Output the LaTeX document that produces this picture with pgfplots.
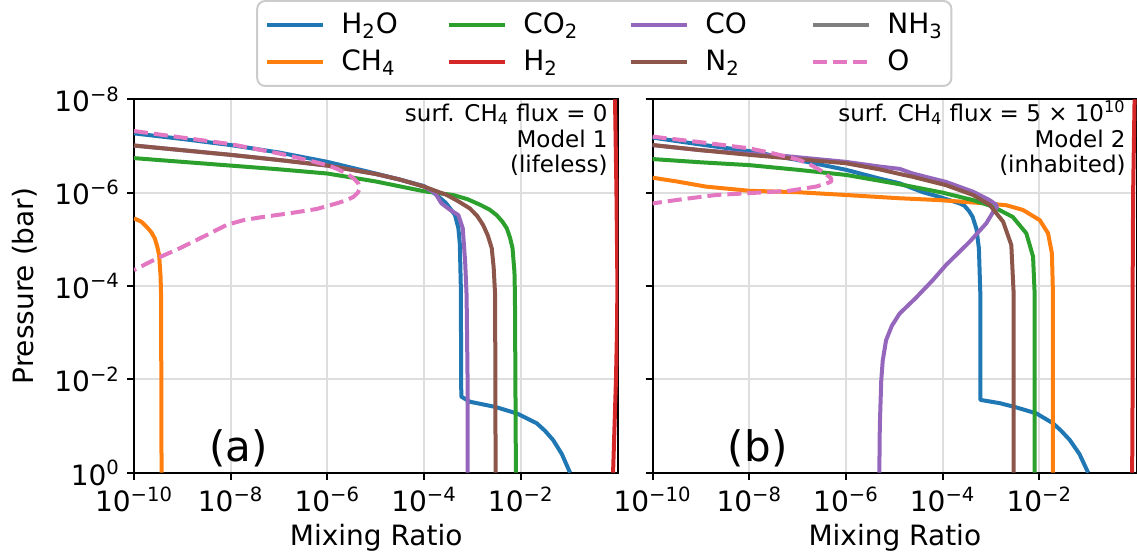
\documentclass[border=0pt]{standalone}
\usepackage{fontspec}
\setmainfont{DejaVu Sans}
\usepackage{pgfplots}
\pgfplotsset{compat=1.18}

\definecolor{cH2O}{HTML}{1F77B4}
\definecolor{cCH4}{HTML}{FF7F0E}
\definecolor{cCO2}{HTML}{2CA02C}
\definecolor{cH2}{HTML}{D62728}
\definecolor{cCO}{HTML}{9467BD}
\definecolor{cN2}{HTML}{8C564B}
\definecolor{cNH3}{HTML}{7F7F7F}
\definecolor{cO}{HTML}{E377C2}

% axes are linear in log10 units; tick labels written as powers of ten
\pgfplotsset{
  panel/.style={
    width=242.2pt, height=186.7pt, scale only axis,
    xmin=-10, xmax=0.02, ymin=-8, ymax=0, y dir=reverse,
    xtick={-10,-8,-6,-4,-2}, ytick={-8,-6,-4,-2,0},
    xticklabels={10\textsuperscript{−10},10\textsuperscript{−8},10\textsuperscript{−6},10\textsuperscript{−4},10\textsuperscript{−2}},
    tick align=outside, tick pos=left, major tick length=3.5pt,
    every tick/.style={black, line width=0.9pt},
    axis line style={line width=0.9pt},
    grid=major, grid style={line width=0.9pt, color=black!13},
    tick label style={font=\fontsize{14}{16}\selectfont},
    every axis x label/.style={at={(axis description cs:0.5,-0.196)}, anchor=base, font=\fontsize{14}{16}\selectfont},
    every axis y label/.style={at={(axis description cs:-0.2085,0.5)}, rotate=90, anchor=base, font=\fontsize{14}{16}\selectfont},
    xlabel={Mixing Ratio},
    every axis plot/.append style={line width=2pt, line join=round},
    legend image code/.code={\draw[#1] (0pt,0pt) -- (27.9pt,0pt);},
  },
  Odash/.style={cO, dash pattern=on 7pt off 3pt},
}
\newcommand{\lt}[1]{\makebox[28pt][l]{\rule[-3.5pt]{0pt}{16pt}#1}}
\newcommand{\annot}{\fontsize{11.5}{13}\selectfont}

\begin{document}
\begin{tikzpicture}
\begin{axis}[panel,
  ylabel={Pressure (bar)},
  yticklabels={10\textsuperscript{−8},10\textsuperscript{−6},10\textsuperscript{−4},10\textsuperscript{−2},10\textsuperscript{0}},
  legend columns=4,
  legend cell align=left,
  legend style={at={(axis description cs:0.9709,1.033)}, anchor=south,
    draw=black!20, line width=1pt, rounded corners=4pt, fill=white,
    inner xsep=4pt, inner ysep=4pt, row sep=2.5pt,
    font=\fontsize{14}{16}\selectfont,
    nodes={inner sep=0pt, text depth={}},
    /tikz/every odd column/.append style={column sep=8.2pt},
    /tikz/every even column/.append style={column sep=24.9pt}},
]
% H2O
\addplot[cH2O, forget plot] coordinates {
(-10,-7.27) (-9,-7.15) (-8,-7.02) (-7,-6.86) (-6,-6.66) (-5,-6.41) (-4.5,-6.28)
(-4,-6.14) (-3.9,-6.07) (-3.74,-5.95) (-3.55,-5.78) (-3.46,-5.66) (-3.36,-5.52)
(-3.29,-5.24) (-3.26,-4.9) (-3.24,-4.0) (-3.23,-1.63) (-3.05,-1.52) (-2.53,-1.41)
(-2.08,-1.27) (-1.67,-1.06) (-1.50,-0.90) (-1.33,-0.70) (-1.15,-0.40) (-0.98,0)};
% CH4
\addplot[cCH4, forget plot] coordinates {
(-10,-5.45) (-9.85,-5.38) (-9.74,-5.27) (-9.64,-5.15) (-9.57,-5.02) (-9.52,-4.85)
(-9.48,-4.66) (-9.45,-4.2) (-9.44,-3.81) (-9.43,0)};
% CO2
\addplot[cCO2, forget plot] coordinates {
(-10,-6.74) (-9,-6.66) (-8,-6.58) (-7,-6.50) (-6,-6.41) (-5,-6.24) (-4,-6.03)
(-3.40,-5.95) (-3.1,-5.86) (-2.84,-5.74) (-2.65,-5.64) (-2.50,-5.52) (-2.38,-5.38)
(-2.29,-5.24) (-2.22,-5.03) (-2.17,-4.81) (-2.13,-4.3) (-2.12,-3.81) (-2.10,0)};
% H2
\addplot[cH2, forget plot] coordinates {
(-0.05,-8) (-0.02,-6) (0,-4) (-0.01,-3) (-0.03,-2) (-0.06,-1) (-0.09,0)};
% CO
\addplot[cCO, forget plot] coordinates {
(-10,-7.01) (-9,-6.91) (-8,-6.81) (-7,-6.70) (-6,-6.58) (-5,-6.40) (-4.5,-6.28)
(-4,-6.13) (-3.77,-5.99) (-3.64,-5.77) (-3.46,-5.63) (-3.29,-5.52) (-3.20,-5.24)
(-3.15,-4.52) (-3.12,-3.8) (-3.10,-2) (-3.10,0)};
% N2
\addplot[cN2, forget plot] coordinates {
(-10,-7.01) (-9,-6.91) (-8,-6.81) (-7,-6.70) (-6,-6.58) (-5,-6.40) (-4.5,-6.28)
(-4,-6.13) (-3.53,-5.95) (-3.3,-5.82) (-3.05,-5.66) (-2.9,-5.5) (-2.78,-5.31)
(-2.68,-5.08) (-2.60,-4.81) (-2.56,-4.4) (-2.53,-3.81) (-2.52,0)};
% O
\addplot[Odash, forget plot] coordinates {
(-10,-7.32) (-9,-7.18) (-8,-7.04) (-7,-6.84) (-6.5,-6.72) (-6,-6.59) (-5.8,-6.51)
(-5.6,-6.41) (-5.45,-6.30) (-5.36,-6.20) (-5.33,-6.09) (-5.37,-6.0) (-5.46,-5.91)
(-5.6,-5.84) (-5.81,-5.77) (-6.22,-5.65) (-6.77,-5.56) (-7.33,-5.48) (-7.74,-5.41)
(-8.08,-5.31) (-8.5,-5.09) (-9.05,-4.81) (-9.53,-4.59) (-10,-4.34)};

\addlegendimage{cH2O, line width=2pt}
\addlegendimage{cCO2, line width=2pt}
\addlegendimage{cCO, line width=2pt}
\addlegendimage{cNH3, line width=2pt}
\addlegendimage{cCH4, line width=2pt}
\addlegendimage{cH2, line width=2pt}
\addlegendimage{cN2, line width=2pt}
\addlegendimage{Odash, line width=2pt}
\legend{\lt{H\textsubscript{2}O},\lt{CO\textsubscript{2}},\lt{CO},\lt{NH\textsubscript{3}},
        \lt{CH\textsubscript{4}},\lt{H\textsubscript{2}},\lt{N\textsubscript{2}},\lt{O}}

\node[anchor=base east, inner sep=0pt, font=\annot] at (axis description cs:0.9785,0.9411) {surf. CH\textsubscript{4} flux = 0};
\node[anchor=base east, inner sep=0pt, font=\annot] at (axis description cs:0.9785,0.8715) {Model 1};
\node[anchor=base east, inner sep=0pt, font=\annot] at (axis description cs:0.9785,0.8045) {(lifeless)};
\node[anchor=base west, inner sep=0pt, font=\fontsize{21}{24}\selectfont] at (axis description cs:0.1552,0.0295) {(a)};
\end{axis}

\begin{axis}[panel, at={(259.3pt,0pt)}, yticklabels={}]
% H2O
\addplot[cH2O] coordinates {
(-10,-7.18) (-9,-7.03) (-8,-6.89) (-7,-6.70) (-6,-6.49) (-5.3,-6.30) (-4.89,-6.20)
(-4.41,-6.01) (-4.1,-5.92) (-3.86,-5.84) (-3.65,-5.77) (-3.55,-5.72) (-3.45,-5.6)
(-3.38,-5.48) (-3.30,-5.22) (-3.25,-4.8) (-3.22,-3.81) (-3.22,-1.56) (-2.82,-1.49)
(-2.48,-1.40) (-2.06,-1.27) (-1.72,-1.06) (-1.55,-0.90) (-1.37,-0.70) (-1.17,-0.40) (-0.99,0)};
% CH4
\addplot[cCH4] coordinates {
(-10,-6.32) (-9.5,-6.24) (-8.9,-6.13) (-8.0,-6.04) (-7.0,-6.01) (-6.0,-5.95)
(-4.89,-5.88) (-4.06,-5.84) (-3.10,-5.77) (-2.68,-5.73) (-2.34,-5.63) (-1.99,-5.41)
(-1.82,-5.13) (-1.74,-4.7) (-1.72,-3.91) (-1.72,0)};
% CO2
\addplot[cCO2] coordinates {
(-10,-6.72) (-9,-6.65) (-8,-6.59) (-7,-6.49) (-6,-6.38) (-4.89,-6.18) (-4.0,-6.0)
(-3.37,-5.84) (-2.96,-5.70) (-2.55,-5.48) (-2.27,-5.13) (-2.13,-4.63) (-2.10,-3.91) (-2.10,0)};
% H2
\addplot[cH2] coordinates {
(-0.03,-8) (-0.06,-6) (-0.07,-4) (-0.07,-2) (-0.08,0)};
% CO
\addplot[cCO] coordinates {
(-10,-7.02) (-9,-6.91) (-8,-6.83) (-7.31,-6.79) (-6,-6.66) (-5.31,-6.56) (-4.89,-6.51)
(-4.62,-6.41) (-3.93,-6.23) (-3.37,-6.02) (-3.03,-5.84) (-2.89,-5.74) (-2.88,-5.68)
(-2.93,-5.63) (-3.10,-5.34) (-3.44,-4.95) (-3.93,-4.45) (-4.20,-4.13) (-4.55,-3.75)
(-4.89,-3.41) (-5.05,-3.15) (-5.17,-2.84) (-5.24,-2.4) (-5.27,-1.98) (-5.30,-1.0) (-5.31,0)};
% N2
\addplot[cN2] coordinates {
(-10,-7.02) (-9,-6.91) (-8,-6.81) (-7,-6.72) (-6,-6.63) (-5.31,-6.50) (-4.89,-6.40)
(-4.62,-6.34) (-3.93,-6.16) (-3.37,-5.95) (-3.03,-5.74) (-2.75,-5.38) (-2.58,-4.88)
(-2.53,-3.81) (-2.53,0)};
% O
\addplot[Odash] coordinates {
(-10,-7.20) (-9,-7.08) (-8,-6.95) (-7.5,-6.84) (-6.96,-6.70) (-6.7,-6.58) (-6.48,-6.45)
(-6.31,-6.31) (-6.30,-6.25) (-6.34,-6.22) (-6.62,-6.13) (-7.17,-6.04) (-8.0,-5.99)
(-8.69,-5.95) (-9.38,-5.86) (-10,-5.77)};

\node[anchor=base east, inner sep=0pt, font=\annot] at (axis description cs:0.9773,0.9411) {surf. CH\textsubscript{4} flux = 5 × 10\textsuperscript{10}};
\node[anchor=base east, inner sep=0pt, font=\annot] at (axis description cs:0.9773,0.8715) {Model 2};
\node[anchor=base east, inner sep=0pt, font=\annot] at (axis description cs:0.9773,0.8045) {(inhabited)};
\node[anchor=base west, inner sep=0pt, font=\fontsize{21}{24}\selectfont] at (axis description cs:0.1548,0.0295) {(b)};
\end{axis}
\pgfresetboundingbox
\path[use as bounding box] (-67pt,-42.65pt) rectangle (501.5pt,236.35pt);
\end{tikzpicture}
\end{document}
